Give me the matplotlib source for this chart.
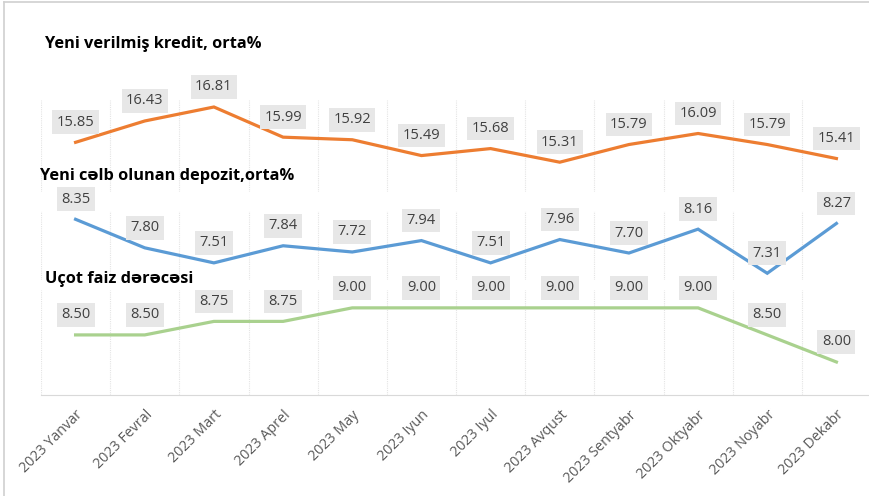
import matplotlib
matplotlib.use("Agg")
import matplotlib.pyplot as plt
from matplotlib.lines import Line2D

months = ["2023 Yanvar", "2023 Fevral", "2023 Mart", "2023 Aprel", "2023 May",
          "2023 Iyun", "2023 Iyul", "2023 Avqust", "2023 Sentyabr",
          "2023 Oktyabr", "2023 Noyabr", "2023 Dekabr"]
kredit = [15.85, 16.43, 16.81, 15.99, 15.92, 15.49, 15.68, 15.31, 15.79, 16.09, 15.79, 15.41]
depozit = [8.35, 7.80, 7.51, 7.84, 7.72, 7.94, 7.51, 7.96, 7.70, 8.16, 7.31, 8.27]
ucot = [8.50, 8.50, 8.75, 8.75, 9.00, 9.00, 9.00, 9.00, 9.00, 9.00, 8.50, 8.00]

titles = ["Yeni verilmiş kredit, orta%", "Yeni cəlb olunan depozit,orta%", "Uçot faiz dərəcəsi"]
colors = ["#ED7D31", "#5B9BD5", "#A9D18E"]

plt.rcParams['font.family'] = ['Open Sans', 'DejaVu Sans']

W, H = 869, 496
fig = plt.figure(figsize=(W / 100, H / 100), dpi=100)

# frame of the picture (top and left edge)
fig.add_artist(Line2D([4 / W, 4 / W], [0, 1 - 2 / H], transform=fig.transFigure, color="#D0D0D0", lw=1.2))
fig.add_artist(Line2D([4 / W, 1], [1 - 2 / H, 1 - 2 / H], transform=fig.transFigure, color="#D0D0D0", lw=1.2))


def px_axes(top, bottom):
    return fig.add_axes([41 / W, 1 - bottom / H, 830 / W, (bottom - top) / H])


panels = [
    (kredit, (100, 192), (14.5, 17.0)),
    (depozit, (211, 280), (7.18, 8.51)),
    (ucot, (290, 395), (7.39, 9.33)),
]
title_pos = [(45, 44), (40, 176), (45, 279)]

x = list(range(len(months)))
for i, (vals, (top, bot), ylim) in enumerate(panels):
    ax = px_axes(top, bot)
    ax.plot(x, vals, color=colors[i], lw=2.3, solid_joinstyle="miter")
    ax.set_xlim(-0.5, len(months) - 0.5)
    ax.set_ylim(*ylim)
    for b in range(len(months) + 1):
        ax.axvline(b - 0.5, color="#E4E4E4", lw=0.8, ls=(0, (1, 1)), zorder=0)
    for s in ax.spines.values():
        s.set_visible(False)
    ax.set_yticks([])
    ax.tick_params(length=0)
    for xi, v in zip(x, vals):
        ax.annotate(f"{v:.2f}", (xi, v), xytext=(0, 20), textcoords="offset pixels",
                    ha="center", va="center", fontsize=10.5, color="#404040",
                    bbox=dict(boxstyle="square,pad=0.3", fc="#E7E7E7", ec="none"),
                    annotation_clip=False)
    if i < 2:
        ax.set_xticks([])
    else:
        ax.spines["bottom"].set_visible(True)
        ax.spines["bottom"].set_color("#D9D9D9")
        ax.set_xticks(x)
        ax.set_xticklabels(months, rotation=45, ha="right", rotation_mode="anchor",
                           fontsize=10.3, color="#595959")
        ax.tick_params(axis="x", pad=9)
    tx, ty = title_pos[i]
    fig.text(tx / W, 1 - ty / H, titles[i], fontsize=11.8, fontweight="bold",
             color="#000000", ha="left", va="center")

fig.savefig("out.png", dpi=100, facecolor="white")
